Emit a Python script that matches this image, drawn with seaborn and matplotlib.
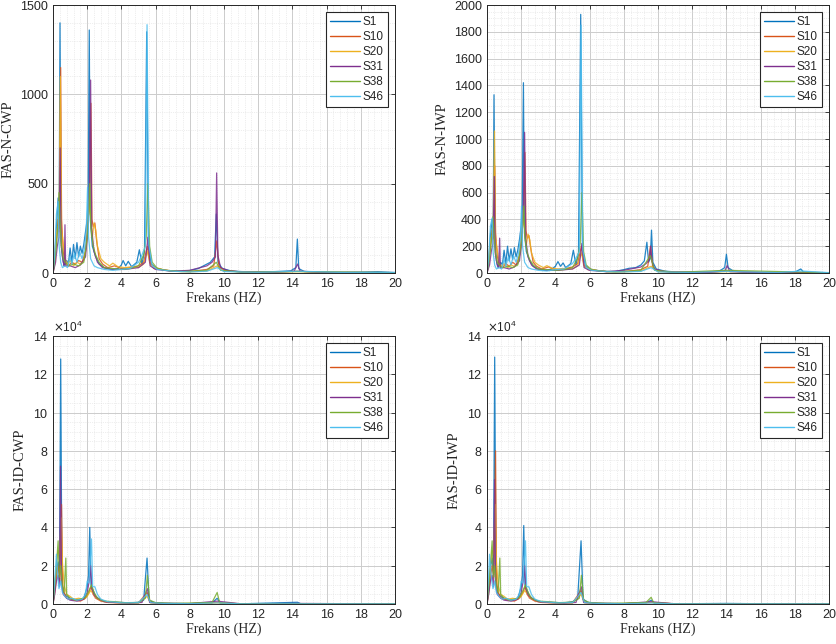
import numpy as np
import pandas as pd
import matplotlib
matplotlib.use("Agg")
import matplotlib.pyplot as plt
import seaborn as sns
from matplotlib.lines import Line2D
from matplotlib.ticker import MultipleLocator, ScalarFormatter

SERIES = ["S1", "S10", "S20", "S31", "S38", "S46"]
COLORS = ["#0072BD", "#D95319", "#EDB120", "#7E2F8E", "#77AC30", "#4DBEEE"]
PANEL_LABELS = ["FAS-N-CWP", "FAS-N-IWP", "FAS-ID-CWP", "FAS-ID-IWP"]
X_LABEL = "Frekans (HZ)"

# ---------------- Panel 1: FAS-N-CWP ----------------
NCWP_S1 = [(0,0),(0.1,80),(0.2,260),(0.3,420),(0.36,300),(0.41,1400),(0.47,180),(0.55,90),(0.65,40),(0.8,70),(0.9,50),(1.0,140),(1.1,60),(1.2,160),(1.3,80),(1.4,170),(1.5,90),(1.6,150),(1.7,110),(1.8,160),(1.9,230),(2.0,300),(2.06,420),(2.12,1360),(2.18,300),(2.3,150),(2.5,90),(2.7,50),(3.0,30),(3.4,20),(3.8,25),(4.0,45),(4.1,70),(4.25,40),(4.4,65),(4.6,35),(4.9,60),(5.05,130),(5.2,50),(5.35,120),(5.48,1350),(5.58,150),(5.75,50),(6.0,30),(6.5,15),(7.0,12),(7.5,10),(8.0,14),(8.5,25),(8.9,45),(9.2,60),(9.45,90),(9.55,330),(9.65,60),(9.9,25),(10.4,12),(11,8),(12,5),(13,8),(13.9,12),(14.2,30),(14.29,190),(14.37,25),(14.7,8),(15.5,5),(17,4),(18,5),(19,7),(20,3)]
NCWP_S10 = [(0,0),(0.1,50),(0.2,180),(0.3,300),(0.38,250),(0.45,1150),(0.5,300),(0.6,120),(0.7,60),(0.9,40),(1.1,60),(1.3,50),(1.5,70),(1.7,60),(1.9,120),(2.05,300),(2.15,400),(2.22,950),(2.28,300),(2.35,260),(2.45,280),(2.55,180),(2.7,80),(2.9,50),(3.2,30),(3.6,40),(4.0,25),(4.5,30),(5.0,40),(5.3,60),(5.52,150),(5.65,60),(5.9,25),(6.3,20),(7.0,10),(8,8),(9,20),(9.4,40),(9.58,180),(9.7,40),(10,15),(11,6),(13,4),(14.3,10),(16,3),(20,2)]
NCWP_S20 = [(0,0),(0.1,90),(0.2,220),(0.28,260),(0.35,230),(0.43,1100),(0.5,250),(0.58,180),(0.7,80),(0.85,50),(1.0,70),(1.2,40),(1.4,60),(1.6,50),(1.8,70),(1.95,150),(2.1,380),(2.2,320),(2.3,200),(2.4,280),(2.5,240),(2.6,150),(2.8,80),(3.0,60),(3.3,40),(3.5,55),(3.8,35),(4.2,30),(4.6,35),(5.0,30),(5.3,50),(5.52,120),(5.7,45),(6.0,30),(6.4,20),(7,10),(8,6),(9,12),(9.6,40),(10,10),(12,4),(14.3,8),(17,3),(20,2)]
NCWP_S31 = [(0,0),(0.15,60),(0.25,150),(0.35,200),(0.42,700),(0.48,150),(0.6,60),(0.66,40),(0.7,270),(0.74,40),(1.0,40),(1.3,30),(1.6,45),(1.9,90),(2.05,250),(2.13,500),(2.2,1080),(2.26,250),(2.4,120),(2.6,60),(2.9,30),(3.5,20),(4.2,20),(5.0,30),(5.4,60),(5.55,200),(5.68,40),(6.0,20),(7,10),(8,15),(8.6,30),(9.0,40),(9.3,60),(9.5,90),(9.57,560),(9.64,100),(9.8,30),(10.3,12),(11,6),(13,5),(14.1,10),(14.3,50),(14.45,10),(16,3),(20,2)]
NCWP_S38 = [(0,0),(0.1,70),(0.2,150),(0.3,280),(0.35,450),(0.4,300),(0.5,150),(0.6,80),(0.72,60),(0.9,40),(1.2,50),(1.5,40),(1.8,60),(2.0,200),(2.1,350),(2.15,500),(2.22,250),(2.35,150),(2.5,100),(2.7,60),(3.0,30),(3.5,25),(4.0,20),(4.5,25),(5.0,40),(5.3,100),(5.45,200),(5.55,500),(5.65,150),(5.8,60),(6.1,25),(6.6,15),(7.5,8),(9,15),(9.55,60),(9.8,15),(11,5),(14.3,8),(20,2)]
NCWP_S46 = [(0,0),(0.1,100),(0.2,330),(0.3,400),(0.36,150),(0.45,60),(0.55,30),(0.7,40),(0.85,30),(1.0,90),(1.1,50),(1.25,110),(1.4,60),(1.55,120),(1.7,80),(1.85,140),(1.95,250),(2.02,480),(2.08,200),(2.2,80),(2.4,40),(2.6,30),(3.0,20),(3.5,15),(4.0,20),(4.5,25),(5.0,60),(5.2,100),(5.4,150),(5.5,1390),(5.6,160),(5.8,40),(6.1,20),(7,10),(8,6),(9,10),(9.6,30),(10,8),(12,4),(14.3,10),(17,3),(20,2)]

# ---------------- Panel 2: FAS-N-IWP ----------------
NIWP_S1 = [(0,0),(0.1,90),(0.2,280),(0.3,400),(0.36,300),(0.41,1330),(0.47,200),(0.55,90),(0.65,40),(0.8,80),(0.9,60),(1.0,170),(1.1,70),(1.2,200),(1.3,90),(1.4,180),(1.5,100),(1.6,190),(1.7,120),(1.8,170),(1.9,250),(2.0,350),(2.06,480),(2.13,1420),(2.19,300),(2.3,160),(2.5,90),(2.7,50),(3.0,30),(3.4,20),(3.8,30),(4.0,50),(4.15,85),(4.3,50),(4.45,75),(4.6,40),(4.9,70),(5.05,170),(5.2,60),(5.35,150),(5.48,1930),(5.58,180),(5.75,55),(6.0,30),(6.5,18),(7.0,12),(7.5,12),(8.0,25),(8.3,35),(8.7,40),(9.0,60),(9.2,90),(9.35,230),(9.45,80),(9.55,110),(9.62,320),(9.7,80),(9.9,30),(10.4,14),(11,8),(12,5),(13,8),(13.6,15),(13.9,40),(14.0,140),(14.1,40),(14.4,15),(15,6),(16,4),(17,4),(18,6),(18.35,30),(18.5,8),(19,4),(20,3)]
NIWP_S10 = [(0,0),(0.1,60),(0.2,200),(0.3,320),(0.38,260),(0.45,800),(0.5,300),(0.6,130),(0.7,60),(0.9,40),(1.1,70),(1.3,50),(1.5,80),(1.7,60),(1.9,130),(2.05,320),(2.15,450),(2.22,900),(2.28,320),(2.35,260),(2.45,280),(2.55,190),(2.7,80),(2.9,50),(3.2,30),(3.6,45),(4.0,25),(4.5,30),(5.0,45),(5.3,70),(5.52,200),(5.65,60),(5.9,25),(6.3,20),(7.0,10),(8,10),(9,25),(9.4,50),(9.56,200),(9.7,40),(10,15),(11,6),(13,4),(14.0,15),(16,3),(20,2)]
NIWP_S20 = [(0,0),(0.1,100),(0.2,240),(0.28,280),(0.35,250),(0.44,1060),(0.5,260),(0.58,190),(0.7,80),(0.85,50),(1.0,70),(1.2,40),(1.4,60),(1.6,50),(1.8,70),(1.95,160),(2.1,400),(2.2,330),(2.3,210),(2.4,290),(2.5,250),(2.6,150),(2.8,80),(3.0,60),(3.3,40),(3.5,55),(3.8,35),(4.2,30),(4.6,35),(5.0,30),(5.3,55),(5.52,150),(5.7,45),(6.0,30),(6.4,20),(7,10),(8,8),(9,15),(9.6,50),(10,10),(12,4),(14.0,10),(17,3),(20,2)]
NIWP_S31 = [(0,0),(0.15,60),(0.25,160),(0.35,220),(0.43,720),(0.48,150),(0.6,60),(0.68,40),(0.74,260),(0.78,40),(1.0,40),(1.3,30),(1.6,45),(1.9,90),(2.05,260),(2.13,520),(2.2,1050),(2.26,260),(2.4,120),(2.6,60),(2.9,30),(3.5,20),(4.2,20),(5.0,30),(5.4,60),(5.55,220),(5.68,40),(6.0,20),(7,10),(8,20),(8.6,35),(9.0,45),(9.3,70),(9.5,100),(9.57,200),(9.64,90),(9.8,30),(10.3,12),(11,6),(13,5),(13.9,15),(14.05,55),(14.2,10),(16,3),(20,2)]
NIWP_S38 = [(0,0),(0.1,80),(0.2,160),(0.3,300),(0.35,420),(0.4,300),(0.5,150),(0.6,80),(0.72,60),(0.9,40),(1.2,50),(1.5,40),(1.8,60),(2.0,220),(2.1,380),(2.15,500),(2.22,260),(2.35,150),(2.5,100),(2.7,60),(3.0,30),(3.5,25),(4.0,20),(4.5,25),(5.0,40),(5.3,110),(5.45,220),(5.55,600),(5.65,160),(5.8,60),(6.1,25),(6.6,15),(7.5,8),(9,20),(9.55,130),(9.8,20),(11,5),(14.0,20),(20,2)]
NIWP_S46 = [(0,0),(0.1,110),(0.2,350),(0.3,410),(0.36,150),(0.45,60),(0.55,30),(0.7,40),(0.85,30),(1.0,100),(1.1,50),(1.25,120),(1.4,60),(1.55,130),(1.7,80),(1.85,150),(1.95,260),(2.02,500),(2.08,200),(2.2,80),(2.4,40),(2.6,30),(3.0,20),(3.5,15),(4.0,25),(4.5,30),(5.0,70),(5.2,110),(5.4,160),(5.5,1850),(5.6,170),(5.8,40),(6.1,20),(7,10),(8,8),(9,12),(9.6,40),(10,8),(12,4),(14.0,12),(17,3),(18.4,15),(20,2)]

# ---------------- Panel 3: FAS-ID-CWP ----------------
IDCWP_S1 = [(0,0),(0.1,8000),(0.2,18000),(0.3,22000),(0.38,15000),(0.45,128000),(0.52,12000),(0.6,6000),(0.8,4000),(1.0,3000),(1.2,2500),(1.5,2000),(1.8,3000),(2.0,9000),(2.08,15000),(2.15,40000),(2.22,10000),(2.35,7000),(2.5,4000),(2.8,2000),(3.2,1000),(4.0,800),(4.5,600),(5.0,900),(5.3,2000),(5.5,24000),(5.62,2000),(5.9,800),(6.5,400),(8,200),(9.3,500),(9.6,3000),(9.8,400),(11,100),(14.3,900),(14.5,100),(17,50),(20,30)]
IDCWP_S10 = [(0,0),(0.1,6000),(0.2,14000),(0.3,20000),(0.4,12000),(0.5,52000),(0.56,10000),(0.65,6000),(0.8,3000),(1.0,2500),(1.3,2000),(1.6,1500),(1.9,3000),(2.1,6000),(2.22,9000),(2.35,5000),(2.5,3000),(2.8,1500),(3.2,800),(4,500),(5.0,600),(5.5,6000),(5.7,800),(6.5,300),(8,150),(9.6,800),(11,80),(20,20)]
IDCWP_S20 = [(0,0),(0.1,10000),(0.2,20000),(0.3,28000),(0.38,26000),(0.48,45000),(0.55,22000),(0.65,10000),(0.8,5000),(1.0,4000),(1.2,2500),(1.5,3000),(1.8,2500),(2.0,4000),(2.2,7000),(2.4,5000),(2.6,3000),(2.9,1500),(3.3,1000),(4,600),(5,500),(5.5,4000),(5.7,600),(6.5,300),(8,150),(9.6,600),(11,60),(20,20)]
IDCWP_S31 = [(0,0),(0.1,5000),(0.2,12000),(0.3,15000),(0.38,9000),(0.44,72000),(0.5,10000),(0.6,5000),(0.8,3000),(1.0,2000),(1.4,1500),(1.8,2500),(2.0,6000),(2.12,12000),(2.2,20000),(2.28,8000),(2.4,5000),(2.6,3000),(3.0,1200),(3.6,800),(4.5,500),(5.2,800),(5.52,8000),(5.65,800),(6.5,300),(8,200),(9.6,1500),(11,80),(14.3,300),(20,20)]
IDCWP_S38 = [(0,0),(0.1,9000),(0.2,20000),(0.3,33000),(0.37,14000),(0.45,20000),(0.55,9000),(0.65,6000),(0.75,24000),(0.8,5000),(1.0,3000),(1.3,2000),(1.6,2500),(1.9,3500),(2.1,7000),(2.25,10000),(2.4,6000),(2.6,3000),(3.0,1500),(3.6,1200),(4.2,700),(5.0,800),(5.4,3000),(5.52,15000),(5.65,2000),(6.0,700),(7,300),(9.3,800),(9.6,6000),(9.75,600),(11,100),(20,20)]
IDCWP_S46 = [(0,0),(0.1,12000),(0.2,26000),(0.28,14000),(0.35,8000),(0.45,12000),(0.55,6000),(0.7,4000),(0.9,2500),(1.1,3000),(1.4,2000),(1.7,2500),(1.9,5000),(2.0,12000),(2.1,11000),(2.25,34000),(2.32,9000),(2.45,9000),(2.6,5000),(2.8,2500),(3.2,1200),(3.6,1000),(4.0,600),(5.0,700),(5.5,5000),(5.7,700),(6.5,300),(8,150),(9.6,600),(11,60),(20,20)]

# ---------------- Panel 4: FAS-ID-IWP ----------------
IDIWP_S1 = [(0,0),(0.1,8000),(0.2,19000),(0.3,24000),(0.38,15000),(0.45,129000),(0.52,12000),(0.6,6000),(0.8,4000),(1.0,3000),(1.2,2500),(1.5,2000),(1.8,3000),(2.0,9000),(2.08,15000),(2.15,41000),(2.22,10000),(2.35,7000),(2.5,4000),(2.8,2000),(3.2,1000),(4.0,800),(4.5,600),(5.0,1200),(5.3,2500),(5.5,33000),(5.62,2500),(5.9,900),(6.5,400),(8,200),(9.3,500),(9.6,2000),(9.8,400),(11,100),(14.0,300),(17,50),(20,30)]
IDIWP_S10 = [(0,0),(0.1,6000),(0.2,14000),(0.3,20000),(0.4,14000),(0.5,80000),(0.56,12000),(0.65,6000),(0.8,3500),(1.0,2500),(1.3,2000),(1.6,1500),(1.9,3000),(2.1,6000),(2.22,9000),(2.35,5000),(2.5,3000),(2.8,1500),(3.2,800),(4,500),(5.0,600),(5.5,7000),(5.7,800),(6.5,300),(8,150),(9.6,900),(11,80),(20,20)]
IDIWP_S20 = [(0,0),(0.1,10000),(0.2,20000),(0.3,28000),(0.38,26000),(0.48,52000),(0.55,22000),(0.65,10000),(0.8,5000),(1.0,4000),(1.2,2500),(1.5,3000),(1.8,2500),(2.0,4000),(2.2,7000),(2.4,5000),(2.6,3000),(2.9,1500),(3.3,1000),(4,600),(5,500),(5.5,5000),(5.7,600),(6.5,300),(8,150),(9.6,700),(11,60),(20,20)]
IDIWP_S31 = [(0,0),(0.1,5000),(0.2,12000),(0.3,15000),(0.38,9000),(0.44,65000),(0.5,10000),(0.6,5000),(0.8,3000),(1.0,2000),(1.4,1500),(1.8,2500),(2.0,6000),(2.12,12000),(2.2,20000),(2.28,8000),(2.4,5000),(2.6,3000),(3.0,1200),(3.6,800),(4.5,500),(5.2,800),(5.52,9000),(5.65,800),(6.5,300),(8,200),(9.6,1200),(11,80),(14.0,200),(20,20)]
IDIWP_S38 = [(0,0),(0.1,9000),(0.2,20000),(0.3,33000),(0.37,14000),(0.45,20000),(0.55,9000),(0.65,6000),(0.75,24000),(0.8,5000),(1.0,3000),(1.3,2000),(1.6,2500),(1.9,3500),(2.1,7000),(2.25,10000),(2.4,6000),(2.6,3000),(3.0,1500),(3.6,1200),(4.2,700),(5.0,1000),(5.4,3000),(5.52,15000),(5.65,2000),(6.0,700),(7,300),(9.3,800),(9.6,3500),(9.75,600),(11,100),(20,20)]
IDIWP_S46 = [(0,0),(0.08,12000),(0.15,26000),(0.25,14000),(0.35,8000),(0.45,12000),(0.55,6000),(0.7,4000),(0.9,2500),(1.1,3000),(1.4,2000),(1.7,2500),(1.9,5000),(2.0,12000),(2.1,11000),(2.25,33000),(2.32,9000),(2.45,9000),(2.6,5000),(2.8,2500),(3.2,1200),(3.6,1000),(4.0,600),(5.0,700),(5.5,6000),(5.7,700),(6.5,300),(8,150),(9.6,500),(11,60),(20,20)]

PANELS = [
    [NCWP_S1, NCWP_S10, NCWP_S20, NCWP_S31, NCWP_S38, NCWP_S46],
    [NIWP_S1, NIWP_S10, NIWP_S20, NIWP_S31, NIWP_S38, NIWP_S46],
    [IDCWP_S1, IDCWP_S10, IDCWP_S20, IDCWP_S31, IDCWP_S38, IDCWP_S46],
    [IDIWP_S1, IDIWP_S10, IDIWP_S20, IDIWP_S31, IDIWP_S38, IDIWP_S46],
]
Y_MAX = [1500, 2000, 140000, 140000]
Y_MAJOR = [500, 200, 20000, 20000]
Y_MINOR = [100, 50, 5000, 5000]

sns.set_theme(style="white")
plt.rcParams["font.family"] = ["Liberation Sans", "DejaVu Sans"]

W, H = 837, 644
fig = plt.figure(figsize=(W / 100, H / 100), dpi=100)
rects = [
    (53, 5, 395, 273), (487, 5, 829, 273),
    (53, 336, 395, 604), (487, 336, 829, 604),
]
palette = dict(zip(SERIES, COLORS))

for i, (x0, y0, x1, y1) in enumerate(rects):
    ax = fig.add_axes([x0 / W, 1 - y1 / H, (x1 - x0) / W, (y1 - y0) / H])
    rows = []
    for name, pts in zip(SERIES, PANELS[i]):
        for f, a in pts:
            rows.append((name, f, a))
    df = pd.DataFrame(rows, columns=["series", "freq", "amp"])
    sns.lineplot(data=df, x="freq", y="amp", hue="series", hue_order=SERIES,
                 palette=palette, estimator=None, sort=False, linewidth=0.9,
                 alpha=0.85, legend=False, ax=ax)
    ax.set_xlim(0, 20)
    ax.set_ylim(0, Y_MAX[i])
    ax.xaxis.set_major_locator(MultipleLocator(2))
    ax.xaxis.set_minor_locator(MultipleLocator(0.4))
    ax.yaxis.set_major_locator(MultipleLocator(Y_MAJOR[i]))
    ax.yaxis.set_minor_locator(MultipleLocator(Y_MINOR[i]))
    ax.grid(which="major", color="#cccccc", linewidth=0.7)
    ax.grid(which="minor", color="#dedede", linewidth=0.5, linestyle=":")
    ax.set_axisbelow(True)
    ax.tick_params(which="major", direction="in", length=3, top=True, right=True,
                   labelsize=9, colors="#262626", width=0.6)
    ax.tick_params(which="minor", length=0, top=True, right=True)
    for s in ax.spines.values():
        s.set_color("#262626")
        s.set_linewidth(0.7)
    if i >= 2:
        fmt = ScalarFormatter(useMathText=True)
        fmt.set_powerlimits((4, 4))
        ax.yaxis.set_major_formatter(fmt)
        ax.yaxis.get_offset_text().set_fontsize(8.5)
        ax.yaxis.get_offset_text().set_color("#262626")
    ax.set_xlabel(X_LABEL, family=["Liberation Serif"], fontsize=10, labelpad=1)
    ax.set_ylabel(PANEL_LABELS[i], family=["Liberation Serif"], fontsize=10.5, labelpad=4)
    handles = [Line2D([0], [0], color=c, lw=1.0) for c in COLORS]
    leg = ax.legend(handles, SERIES, loc="upper right", fontsize=8.5,
                    frameon=True, fancybox=False, framealpha=1,
                    edgecolor="#262626", handlelength=2.6, handletextpad=0.2,
                    labelspacing=0.25, borderpad=0.35, borderaxespad=0.6)
    leg.get_frame().set_linewidth(0.8)

fig.savefig("out.png", dpi=100)
